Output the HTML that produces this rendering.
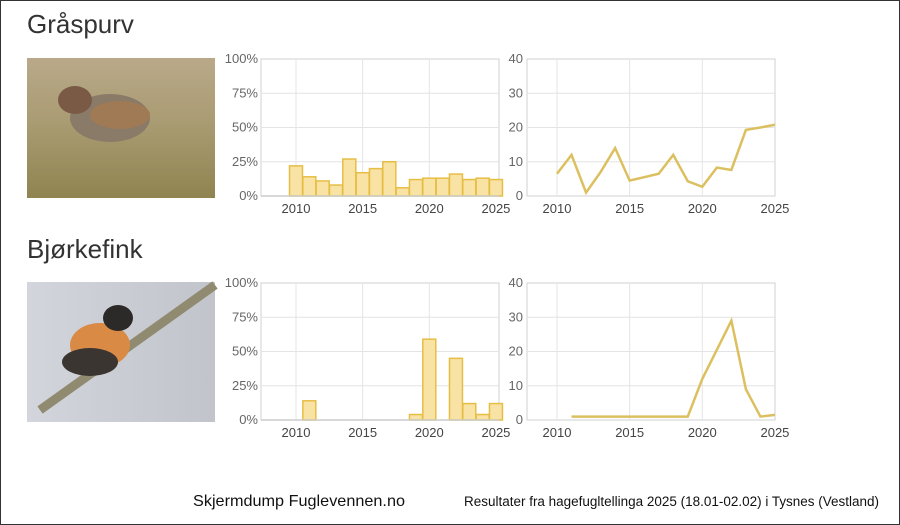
<!DOCTYPE html>
<html><head><meta charset="utf-8"><style>
body{margin:0;background:#fff}
svg{display:block}
text{font-family:"Liberation Sans",sans-serif}
</style></head><body>
<svg id="s" width="900" height="525" xmlns="http://www.w3.org/2000/svg">
<defs>
<linearGradient id="g1" x1="0" y1="0" x2="0" y2="1"><stop offset="0" stop-color="#b9a98a"/><stop offset="0.5" stop-color="#a89a70"/><stop offset="1" stop-color="#8f8450"/></linearGradient>
<linearGradient id="g2" x1="0" y1="0" x2="1" y2="0"><stop offset="0" stop-color="#d3d5dc"/><stop offset="1" stop-color="#c2c4cc"/></linearGradient>
</defs>
<rect x="0.5" y="0.5" width="899" height="524" fill="#fff" stroke="#333"/>
<text x="27" y="33" font-size="26" fill="#333">Gråspurv</text>
<text x="27" y="258" font-size="26" fill="#333">Bjørkefink</text>
<rect x="27" y="58" width="188" height="140" fill="url(#g1)"/>
<ellipse cx="110" cy="118" rx="40" ry="24" fill="#8a7a68"/>
<ellipse cx="75" cy="100" rx="17" ry="14" fill="#7a5a45"/>
<ellipse cx="120" cy="115" rx="30" ry="14" fill="#a07a55"/>
<rect x="27" y="282" width="188" height="140" fill="url(#g2)"/>
<path d="M40 410 L215 285" stroke="#8f8a70" stroke-width="9"/>
<ellipse cx="100" cy="345" rx="30" ry="22" fill="#d98a45"/>
<ellipse cx="118" cy="318" rx="15" ry="13" fill="#2b2a28"/>
<ellipse cx="90" cy="362" rx="28" ry="14" fill="#3a3530"/>
<text x="193" y="506" font-size="16" fill="#111" textLength="212" lengthAdjust="spacingAndGlyphs">Skjermdump Fuglevennen.no</text>
<text x="464" y="506" font-size="13.5" fill="#111" textLength="415" lengthAdjust="spacingAndGlyphs">Resultater fra hagefugltellinga 2025 (18.01-02.02) i Tysnes (Vestland)</text>
<g id="c"></g>
</svg>
<script>
var c=document.getElementById('c'),h='';
function chart(oy,bars,line){
 var t=59+oy,b=196+oy,L=261,R=499,L2=527,R2=775;
 h+='<rect x="'+L+'" y="'+t+'" width="'+(R-L)+'" height="'+(b-t)+'" fill="#fff" stroke="#d0d0d0"/>';
 for(var i=1;i<4;i++){var y=b-(b-t)*i/4;h+='<line x1="'+L+'" x2="'+R+'" y1="'+y+'" y2="'+y+'" stroke="#e4e4e4"/>';}
 var lab=['0%','25%','50%','75%','100%'];
 for(i=0;i<5;i++){var y=b-(b-t)*i/4;h+='<text x="'+(L-3)+'" y="'+(y+4)+'" font-size="13" fill="#666" text-anchor="end">'+lab[i]+'</text>';}
 for(var yr=2010;yr<=2025;yr+=5){var x=296+(yr-2010)*13.33;if(yr<2025)h+='<line x1="'+x+'" x2="'+x+'" y1="'+t+'" y2="'+b+'" stroke="#e4e4e4"/>';h+='<text x="'+x+'" y="'+(b+17)+'" font-size="13" fill="#444" text-anchor="middle">'+yr+'</text>';}
 for(var k in bars){var v=bars[k];if(!v)continue;var x=296+(k-2010)*13.33-6.5,hh=v*1.37;h+='<rect x="'+x+'" y="'+(b-hh)+'" width="13" height="'+hh+'" fill="#f8e2a4" stroke="#e6be45" stroke-width="1.5"/>';}
 h+='<line x1="'+L+'" x2="'+R+'" y1="'+b+'" y2="'+b+'" stroke="#ccc" stroke-width="1.5"/>';
 h+='<rect x="'+L2+'" y="'+t+'" width="'+(R2-L2)+'" height="'+(b-t)+'" fill="#fff" stroke="#d0d0d0"/>';
 for(i=1;i<4;i++){var y=b-(b-t)*i/4;h+='<line x1="'+L2+'" x2="'+R2+'" y1="'+y+'" y2="'+y+'" stroke="#e4e4e4"/>';}
 for(i=0;i<5;i++){var y=b-(b-t)*i/4;h+='<text x="'+(L2-4)+'" y="'+(y+4)+'" font-size="13" fill="#666" text-anchor="end">'+(i*10)+'</text>';}
 for(yr=2010;yr<=2025;yr+=5){var x=557+(yr-2010)*14.53;if(yr<2025)h+='<line x1="'+x+'" x2="'+x+'" y1="'+t+'" y2="'+b+'" stroke="#e4e4e4"/>';h+='<text x="'+x+'" y="'+(b+17)+'" font-size="13" fill="#444" text-anchor="middle">'+yr+'</text>';}
 var p=[];for(k in line){p.push((557+(k-2010)*14.53)+','+(b-line[k]*3.425));}
 h+='<polyline points="'+p.join(' ')+'" fill="none" stroke="#dcc060" stroke-width="2.5"/>';
}
chart(0,{2010:22,2011:14,2012:11,2013:8,2014:27,2015:17,2016:20,2017:25,2018:6,2019:12,2020:13,2021:13,2022:16,2023:12,2024:13,2025:12},
 {2010:6.5,2011:12,2012:1,2013:7,2014:14,2015:4.5,2016:5.5,2017:6.5,2018:12,2019:4.3,2020:2.7,2021:8.3,2022:7.6,2023:19.3,2024:20,2025:20.8});
chart(224,{2011:14,2019:4,2020:59,2022:45,2023:12,2024:4,2025:12},
 {2011:1,2012:1,2013:1,2014:1,2015:1,2016:1,2017:1,2018:1,2019:1,2020:12,2021:20.5,2022:29,2023:9,2024:1,2025:1.5});
c.innerHTML=h;
</script>
</body></html>
